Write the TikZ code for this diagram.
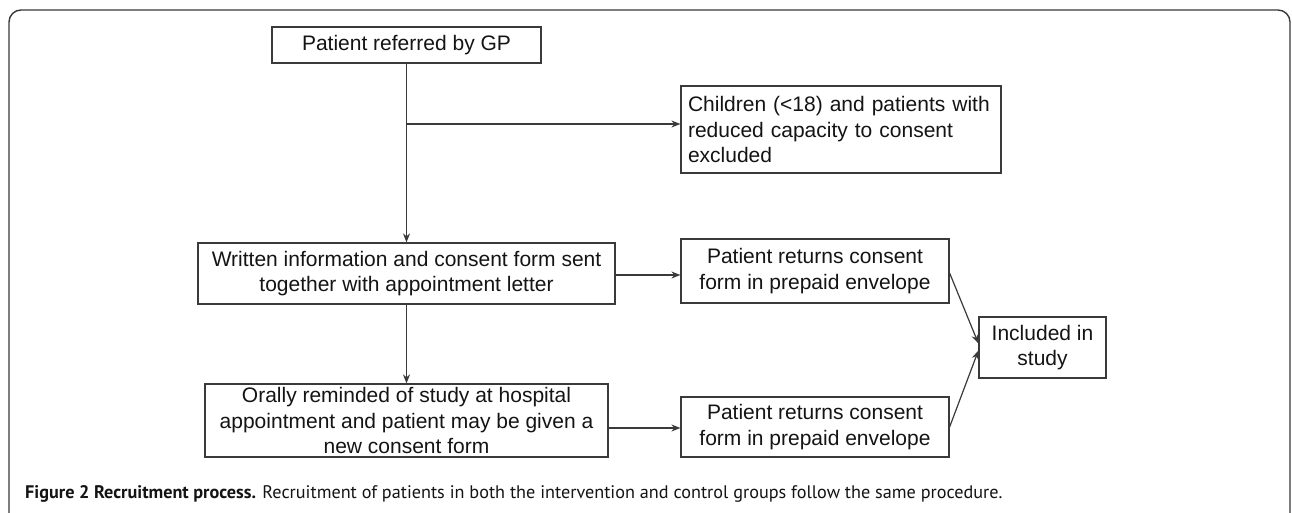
\documentclass[tikz,border=0pt]{standalone}
\usepackage{fontspec}
\setmainfont{Liberation Sans}
\newfontfamily\capfont{PT Sans}
\usetikzlibrary{arrows.meta,calc}
\definecolor{linecol}{HTML}{3A3A3A}
\definecolor{txtcol}{HTML}{141414}
\tikzset{
  box/.style={draw=linecol, line width=1.2pt, rectangle, inner sep=0pt, align=center,
    text=txtcol, font=\fontsize{21}{25.5}\selectfont},
  conn/.style={draw=linecol, line width=1.2pt},
  arr/.style={conn, -{Stealth[length=9pt,width=7pt]}}
}
\begin{document}
\begin{tikzpicture}[x=1pt,y=-1pt]
\clip (0,0) rectangle (1292,513);
\fill[white] (0,0) rectangle (1292,513);
% frame
\draw[linecol, line width=1.4pt, rounded corners=12pt] (9,530) -- (9,10) -- (1290,10) -- (1290,530);
% nodes
\node[box, minimum width=269pt, minimum height=36pt] (gp) at (406.5,45) {Patient referred by GP};
\node[box, minimum width=320pt, minimum height=87pt, text width=306pt, align=left, inner xsep=7pt] (child) at (841,129.5)
  {Children (<18) and patients with\\reduced capacity to consent\\excluded};
\node[box, minimum width=417pt, minimum height=61pt] (written) at (406.5,273.5)
  {Written information and consent form sent\\together with appointment letter};
\node[box, minimum width=403pt, minimum height=73pt] (orally) at (406.5,420.5)
  {Orally reminded of study at hospital\\appointment and patient may be given a\\new consent form};
\node[box, minimum width=268pt, minimum height=64pt] (p1) at (815,271)
  {Patient returns consent\\form in prepaid envelope};
\node[box, minimum width=268pt, minimum height=60pt] (p2) at (815,427)
  {Patient returns consent\\form in prepaid envelope};
\node[box, minimum width=127pt, minimum height=61pt] (inc) at (1042.5,347.5)
  {Included in\\study};
% connectors
\coordinate (br) at (406.5,124);
\draw[arr] (gp) -- (written);
\draw[arr] (br) -- (br -| child.west);
\draw[arr] (written) -- (orally);
\draw[arr] ([yshift=-1.5pt]written.east) -- ([yshift=-1.5pt]written.east -| p1.west);
\draw[arr] ([yshift=-7.5pt]orally.east) -- ([yshift=-7.5pt]orally.east -| p2.west);
\draw[arr] ([yshift=-2pt]p1.east) -- ([yshift=4pt]inc.west);
\draw[arr] (p2.east) -- ([yshift=-3pt]inc.west);
% caption
\node[anchor=base west, inner sep=0pt, font=\capfont\fontsize{18.2}{21}\selectfont, text=txtcol] (cap) at (25,498)
  {\textbf{Figure 2 Recruitment process.} Recruitment of patients in both the intervention and control groups follow the same procedure.};
\end{tikzpicture}
\end{document}
